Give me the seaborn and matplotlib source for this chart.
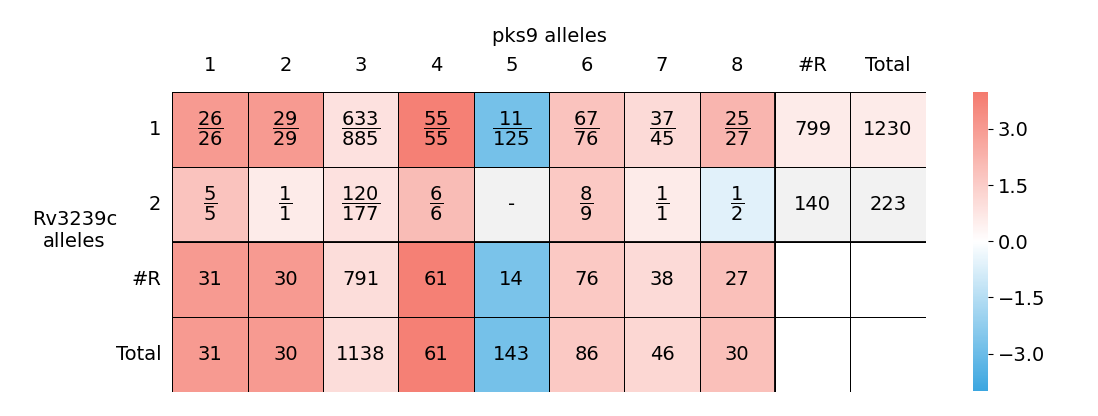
import numpy as np
import matplotlib
matplotlib.use("Agg")
import matplotlib.pyplot as plt
import seaborn as sns
from matplotlib.colors import LinearSegmentedColormap, ListedColormap

col_labels = ["1", "2", "3", "4", "5", "6", "7", "8", "#R", "Total"]
row_labels = ["1", "2", "#R", "Total"]

# cell texts
row1 = ["26/26", "29/29", "633/885", "55/55", "11/125", "67/76", "37/45", "25/27", "799", "1230"]
row2 = ["5/5", "1/1", "120/177", "6/6", "-", "8/9", "1/1", "1/2", "140", "223"]
row3 = ["31", "30", "791", "61", "14", "76", "38", "27", "", ""]
row4 = ["31", "30", "1138", "61", "143", "86", "46", "30", "", ""]

# colour scores, nan = no colour
score1 = [3.0, 3.0, 0.9, 3.8, -2.8, 1.8, 1.1, 2.2, 0.6, 0.6]
score2 = [1.8, 0.6, 0.9, 2.0, np.nan, 1.6, 0.6, -0.6, np.nan, np.nan]
score3 = [3.0, 3.0, 1.0, 3.8, -2.7, 1.6, 1.1, 1.9, np.nan, np.nan]
score4 = [3.0, 3.0, 1.0, 3.8, -2.8, 1.6, 1.2, 1.9, np.nan, np.nan]
grey_cells = [(1, 4), (1, 8), (1, 9)]


def fmt(s):
    if "/" in s:
        a, b = s.split("/")
        return r"$\dfrac{%s}{%s}$" % (a, b)
    return s


annot = np.array([[fmt(s) for s in r] for r in (row1, row2, row3, row4)])
scores = np.array([score1, score2, score3, score4])
grey = np.full(scores.shape, np.nan)
for r, c in grey_cells:
    grey[r, c] = 1

cmap = LinearSegmentedColormap.from_list("bwr2", ["#3ba6e0", "#ffffff", "#f47a6e"])

fig = plt.figure(figsize=(10.98, 4.16), dpi=100)
ax = fig.add_axes([0.157, 0.058, 0.686, 0.721])
cax = fig.add_axes([0.886, 0.06, 0.014, 0.72])

sns.heatmap(grey, ax=ax, cmap=ListedColormap(["#f2f2f2"]), cbar=False, linewidths=0)
sns.heatmap(scores, ax=ax, cmap=cmap, vmin=-4, vmax=4, annot=annot, fmt="",
            annot_kws={"fontsize": 14, "color": "black"},
            linewidths=0.6, linecolor="black", cbar_ax=cax,
            cbar_kws={"ticks": [-3, -1.5, 0, 1.5, 3]},
            xticklabels=col_labels, yticklabels=row_labels)
for r, c in grey_cells:
    ax.text(c + 0.5, r + 0.5, annot[r, c], ha="center", va="center", fontsize=14)

ax.axhline(2, color="black", lw=1.3)
ax.axvline(8, color="black", lw=1.3)

ax.xaxis.tick_top()
ax.xaxis.set_label_position("top")
ax.set_xlabel("pks9 alleles", fontsize=14, labelpad=10)
ax.set_ylabel("Rv3239c\nalleles", fontsize=14, rotation=0)
ax.yaxis.set_label_coords(-0.13, 0.47)
ax.tick_params(axis="x", length=0, labelsize=14, pad=12)
ax.tick_params(axis="y", length=0, labelsize=14, pad=8)
plt.setp(ax.get_yticklabels(), rotation=0)
plt.setp(ax.get_xticklabels(), rotation=0)

cax.tick_params(labelsize=14)
cax.set_yticklabels(["\u22123.0", "\u22121.5", "0.0", "1.5", "3.0"])
for s in cax.spines.values():
    s.set_visible(False)

fig.savefig("out.png", dpi=100)
